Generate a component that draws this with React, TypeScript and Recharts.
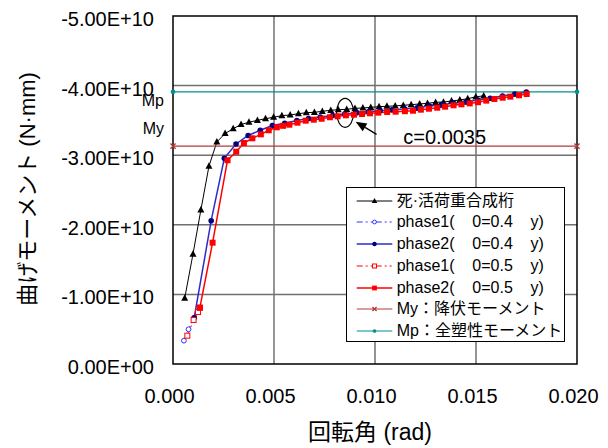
import {
  LineChart,
  Line,
  XAxis,
  YAxis,
  CartesianGrid,
  ReferenceArea,
  ReferenceDot,
  ReferenceLine,
  Legend,
  Label,
} from "recharts";

// ─────────────────────────────────────────────────────────────
// Data (rotation in rad, moment in units of 1e10 N·mm)
// ─────────────────────────────────────────────────────────────

const E10 = 1e10;

const ROT_TICKS = [0, 0.005, 0.01, 0.015, 0.02];
const MOM_TICKS = [-5, -4, -3, -2, -1, 0];
const GRID_ROT = [0.005, 0.01, 0.015];
const GRID_MOM = [-4, -3, -2, -1];

// 死·活荷重合成桁
const COMPOSITE_ROT = [
  0.00058, 0.00099, 0.00138, 0.00178, 0.00217, 0.00258, 0.00298, 0.00337, 0.00376, 0.00418,
  0.00458, 0.00498, 0.00539, 0.0058, 0.00621, 0.0066, 0.007, 0.00739, 0.00781, 0.00818,
  0.0086, 0.00901, 0.0094, 0.00979, 0.0102, 0.01059, 0.011, 0.0114, 0.01179, 0.01221,
  0.0126, 0.013, 0.01339, 0.01379, 0.0142, 0.01459, 0.01499, 0.01538,
];
const COMPOSITE_MOM = [
  -0.945, -1.58, -2.213, -2.842, -3.19, -3.312, -3.381, -3.441, -3.474, -3.501,
  -3.524, -3.546, -3.568, -3.578, -3.596, -3.611, -3.616, -3.631, -3.645, -3.654,
  -3.659, -3.674, -3.678, -3.688, -3.697, -3.703, -3.708, -3.717, -3.726, -3.736,
  -3.746, -3.76, -3.764, -3.779, -3.793, -3.812, -3.839, -3.853,
];

// phase1 / phase2, θ0 = 0.4 εy
const P1_04_ROT = [0.00054, 0.00077, 0.00105];
const P1_04_MOM = [-0.335, -0.499, -0.665];
const P2_04_ROT = [
  0.00105, 0.00189, 0.00254, 0.00312, 0.00372, 0.00432, 0.00492, 0.00553, 0.00613, 0.00671,
  0.00729, 0.0079, 0.0085, 0.00909, 0.00967, 0.01025, 0.01084, 0.01148, 0.01209, 0.0127,
  0.01329, 0.01389, 0.0145, 0.0151, 0.0157, 0.01631, 0.01692, 0.01749,
];
const P2_04_MOM = [
  -0.665, -2.059, -2.955, -3.161, -3.283, -3.358, -3.427, -3.458, -3.499, -3.527,
  -3.549, -3.57, -3.592, -3.611, -3.625, -3.639, -3.652, -3.664, -3.682, -3.707,
  -3.726, -3.746, -3.764, -3.793, -3.818, -3.851, -3.879, -3.908,
];

// phase1 / phase2, θ0 = 0.5 εy
const P1_05_ROT = [0.00071, 0.00102, 0.00124, 0.00133];
const P1_05_MOM = [-0.407, -0.632, -0.747, -0.809];
const P2_05_ROT = [
  0.00133, 0.00196, 0.0027, 0.00313, 0.00351, 0.00393, 0.00435, 0.00474, 0.00514, 0.00545,
  0.00576, 0.00616, 0.00657, 0.00697, 0.00736, 0.00777, 0.00815, 0.00856, 0.00896, 0.00936,
  0.00975, 0.01016, 0.0106, 0.01102, 0.01148, 0.01188, 0.01227, 0.01267, 0.01308, 0.01347,
  0.01389, 0.01428, 0.01469, 0.0151, 0.01551, 0.01591, 0.01632, 0.0167, 0.01713, 0.01751,
];
const P2_05_MOM = [
  -0.809, -1.743, -2.928, -3.05, -3.175, -3.243, -3.3, -3.358, -3.401, -3.422,
  -3.438, -3.467, -3.496, -3.51, -3.524, -3.545, -3.559, -3.573, -3.582, -3.592,
  -3.602, -3.611, -3.621, -3.625, -3.632, -3.639, -3.654, -3.668, -3.682, -3.697,
  -3.717, -3.731, -3.744, -3.761, -3.784, -3.807, -3.826, -3.841, -3.861, -3.879,
];

// yield / full plastic moment
const LIMIT_ROT = [0, 0.02];
const MY_VALUE = -3.13;
const MP_VALUE = -3.91;

// c = 0.0035 annotation
const NOTE_POINT = { x: 0.00852, y: -3.609 };
const NOTE_ARROW = [
  { x: 0.01008, y: -3.3 },
  { x: 0.00904, y: -3.481 },
];
const NOTE_TEXT = { x: 0.0114, y: -3.16, text: "c=0.0035" };

// ─────────────────────────────────────────────────────────────
// Helpers
// ─────────────────────────────────────────────────────────────

const FONT = "'Liberation Sans', Arial, 'Noto Sans CJK JP', sans-serif";

type Pt = { x: number; y: number };

function toPoints(rot: number[], mom: number[]): Pt[] {
  return rot.map((x, i) => ({ x, y: mom[i] * E10 }));
}

function fmtMoment(v: number): string {
  if (v === 0) return "0.00E+00";
  return `${(v / E10).toFixed(2)}E+10`;
}

type MarkerKind = "triangle" | "circle" | "ring" | "square" | "hollowSquare" | "cross" | "dot";

function marker(kind: MarkerKind, color: string, cx: number, cy: number, s = 1, key?: any) {
  switch (kind) {
    case "triangle":
      return (
        <polygon
          key={key}
          points={`${cx},${cy - 3.9 * s} ${cx + 3.5 * s},${cy + 2.6 * s} ${cx - 3.5 * s},${cy + 2.6 * s}`}
          fill={color}
        />
      );
    case "circle":
      return <circle key={key} cx={cx} cy={cy} r={2.8 * s} fill={color} />;
    case "ring":
      return <circle key={key} cx={cx} cy={cy} r={2.4 * s} fill="#fff" stroke={color} strokeWidth={1} />;
    case "square":
      return <rect key={key} x={cx - 3 * s} y={cy - 3 * s} width={6 * s} height={6 * s} fill={color} />;
    case "hollowSquare":
      return (
        <rect
          key={key}
          x={cx - 2.5 * s}
          y={cy - 2.5 * s}
          width={5 * s}
          height={5 * s}
          fill="#fff"
          stroke={color}
          strokeWidth={1}
        />
      );
    case "cross":
      return (
        <g key={key} stroke={color} strokeWidth={1.3}>
          <line x1={cx - 2.6 * s} y1={cy - 2.6 * s} x2={cx + 2.6 * s} y2={cy + 2.6 * s} />
          <line x1={cx - 2.6 * s} y1={cy + 2.6 * s} x2={cx + 2.6 * s} y2={cy - 2.6 * s} />
        </g>
      );
    default:
      return <circle key={key} cx={cx} cy={cy} r={2.3 * s} fill={color} />;
  }
}

interface SeriesDef {
  key: string;
  name: string;
  data: Pt[];
  stroke: string;
  width: number;
  dash?: string;
  marker: MarkerKind;
  markerColor: string;
}

const SERIES: SeriesDef[] = [
  {
    key: "composite",
    name: "死·活荷重合成桁",
    data: toPoints(COMPOSITE_ROT, COMPOSITE_MOM),
    stroke: "#000000",
    width: 1,
    marker: "triangle",
    markerColor: "#000000",
  },
  {
    key: "p1-04",
    name: "phase1(    0=0.4    y)",
    data: toPoints(P1_04_ROT, P1_04_MOM),
    stroke: "#3333ff",
    width: 1,
    dash: "6 3 2 3 2 3",
    marker: "ring",
    markerColor: "#3333ff",
  },
  {
    key: "p2-04",
    name: "phase2(    0=0.4    y)",
    data: toPoints(P2_04_ROT, P2_04_MOM),
    stroke: "#2b2bcc",
    width: 1.5,
    marker: "circle",
    markerColor: "#000080",
  },
  {
    key: "p1-05",
    name: "phase1(    0=0.5    y)",
    data: toPoints(P1_05_ROT, P1_05_MOM),
    stroke: "#ff0000",
    width: 1,
    dash: "6 3 2 3 2 3",
    marker: "hollowSquare",
    markerColor: "#ff0000",
  },
  {
    key: "p2-05",
    name: "phase2(    0=0.5    y)",
    data: toPoints(P2_05_ROT, P2_05_MOM),
    stroke: "#ff0000",
    width: 1.5,
    marker: "square",
    markerColor: "#ff0000",
  },
  {
    key: "my",
    name: "My：降伏モーメント",
    data: LIMIT_ROT.map((x) => ({ x, y: MY_VALUE * E10 })),
    stroke: "#b03a3a",
    width: 1.2,
    marker: "cross",
    markerColor: "#b03a3a",
  },
  {
    key: "mp",
    name: "Mp：全塑性モーメント",
    data: LIMIT_ROT.map((x) => ({ x, y: MP_VALUE * E10 })),
    stroke: "#009090",
    width: 1.2,
    marker: "dot",
    markerColor: "#009090",
  },
];

// ─────────────────────────────────────────────────────────────
// Pieces
// ─────────────────────────────────────────────────────────────

const YTick = ({ x, y, payload }: any) => (
  <text x={x} y={y} dy={10} textAnchor="end" fontSize={20} fontFamily={FONT} fill="#000">
    {fmtMoment(payload.value)}
  </text>
);

const XTick = ({ x, y, payload }: any) => (
  <text x={x} y={y} dx={-3.5} dy={39} textAnchor="middle" fontSize={20} fontFamily={FONT} fill="#000">
    {Number(payload.value).toFixed(3)}
  </text>
);

const Arrow = (p: any) => {
  const { x1, y1, x2, y2 } = p;
  const ang = Math.atan2(y2 - y1, x2 - x1);
  const len = 11;
  const half = 4.5;
  const bx = x2 - len * Math.cos(ang);
  const by = y2 - len * Math.sin(ang);
  const px = -Math.sin(ang) * half;
  const py = Math.cos(ang) * half;
  return (
    <g>
      <line x1={x1} y1={y1} x2={bx} y2={by} stroke="#000" strokeWidth={1.3} />
      <polygon points={`${x2},${y2} ${bx + px},${by + py} ${bx - px},${by - py}`} fill="#000" />
    </g>
  );
};

function LegendBox() {
  return (
    <div
      style={{
        width: 219,
        height: 155,
        boxSizing: "border-box",
        border: "1px solid #000",
        background: "#fff",
        position: "relative",
        fontFamily: FONT,
        fontSize: 16,
        color: "#000",
      }}
    >
      {SERIES.map((s, i) => (
        <div key={s.key} style={{ position: "absolute", left: 0, top: 1.7 + 21.7 * i, height: 22, width: 217 }}>
          <svg width={48} height={22} style={{ position: "absolute", left: 0, top: 0 }}>
            <line x1={9.7} x2={45.3} y1={11} y2={11} stroke={s.stroke} strokeWidth={s.width} strokeDasharray={s.dash} />
            {marker(s.marker, s.markerColor, 27.5, 11, 0.8)}
          </svg>
          <span style={{ position: "absolute", left: 49.7, top: 0, lineHeight: "22px", whiteSpace: "pre" }}>{s.name}</span>
        </div>
      ))}
    </div>
  );
}

// ─────────────────────────────────────────────────────────────
// Chart
// ─────────────────────────────────────────────────────────────

export default function App() {
  return (
    <div style={{ position: "absolute", left: 0, top: 0, width: 608, height: 448, background: "#fff" }}>
      <LineChart width={608} height={448} margin={{ top: 16, right: 31, bottom: 24, left: 0 }}>
        <CartesianGrid
          stroke="#707070"
          strokeWidth={1.5}
          horizontalValues={GRID_MOM.map((v) => v * E10)}
          verticalValues={GRID_ROT}
        />
        <XAxis
          type="number"
          dataKey="x"
          domain={[0, 0.02]}
          ticks={ROT_TICKS}
          height={60}
          axisLine={false}
          tickLine={false}
          tickSize={0}
          tickMargin={0}
          tick={<XTick />}
          interval={0}
        >
          <Label
            content={() => (
              <text x={370} y={440} textAnchor="middle" fontSize={23} fontFamily={FONT} fill="#000">
                回転角 (rad)
              </text>
            )}
          />
        </XAxis>
        <YAxis
          type="number"
          dataKey="y"
          domain={[MOM_TICKS[0] * E10, 0]}
          ticks={MOM_TICKS.map((v) => v * E10)}
          reversed
          width={173}
          axisLine={false}
          tickLine={false}
          tickSize={0}
          tickMargin={19}
          tick={<YTick />}
          interval={0}
        >
          <Label
            content={() => (
              <text
                x={35}
                y={189}
                transform="rotate(-90 35 189)"
                textAnchor="middle"
                fontSize={22}
                fontFamily={FONT}
                fill="#000"
              >
                曲げモーメント (N·mm)
              </text>
            )}
          />
        </YAxis>

        {/* plot frame */}
        <ReferenceArea
          x1={0}
          x2={0.02}
          y1={MOM_TICKS[0] * E10}
          y2={0}
          fill="none"
          fillOpacity={0}
          stroke="#000"
          strokeWidth={1.5}
        />

        {SERIES.map((s) => (
          <Line
            key={s.key}
            name={s.name}
            data={s.data}
            dataKey="y"
            type="linear"
            stroke={s.stroke}
            strokeWidth={s.width}
            strokeDasharray={s.dash}
            dot={(p: any) => marker(s.marker, s.markerColor, p.cx, p.cy, 1, p.key ?? p.index)}
            activeDot={false}
            isAnimationActive={false}
          />
        ))}

        {/* Mp / My labels beside the axis */}
        <ReferenceDot
          x={0}
          y={MP_VALUE * E10}
          r={0}
          shape={(p: any) => (
            <text x={p.cx - 9} y={p.cy + 14.2} textAnchor="end" fontSize={16} fontFamily={FONT} fill="#000">
              Mp
            </text>
          )}
        />
        <ReferenceDot
          x={0}
          y={MY_VALUE * E10}
          r={0}
          shape={(p: any) => (
            <text x={p.cx - 9} y={p.cy - 12.5} textAnchor="end" fontSize={16} fontFamily={FONT} fill="#000">
              My
            </text>
          )}
        />

        {/* c = 0.0035 marker: ellipse, arrow and text */}
        <ReferenceDot
          x={NOTE_POINT.x}
          y={NOTE_POINT.y * E10}
          r={0}
          shape={(p: any) => (
            <ellipse cx={p.cx} cy={p.cy} rx={8.5} ry={14.5} fill="none" stroke="#000" strokeWidth={1.2} />
          )}
        />
        <ReferenceLine
          segment={NOTE_ARROW.map((q) => ({ x: q.x, y: q.y * E10 }))}
          stroke="#000"
          shape={<Arrow />}
        />
        <ReferenceDot
          x={NOTE_TEXT.x}
          y={NOTE_TEXT.y * E10}
          r={0}
          shape={(p: any) => (
            <text x={p.cx} y={p.cy} fontSize={20} fontFamily={FONT} fill="#000">
              {NOTE_TEXT.text}
            </text>
          )}
        />

        <Legend
          layout="horizontal"
          verticalAlign="middle"
          align="center"
          wrapperStyle={{ left: 346, top: 187, width: 219, height: 155 }}
          content={() => <LegendBox />}
        />
      </LineChart>
    </div>
  );
}
